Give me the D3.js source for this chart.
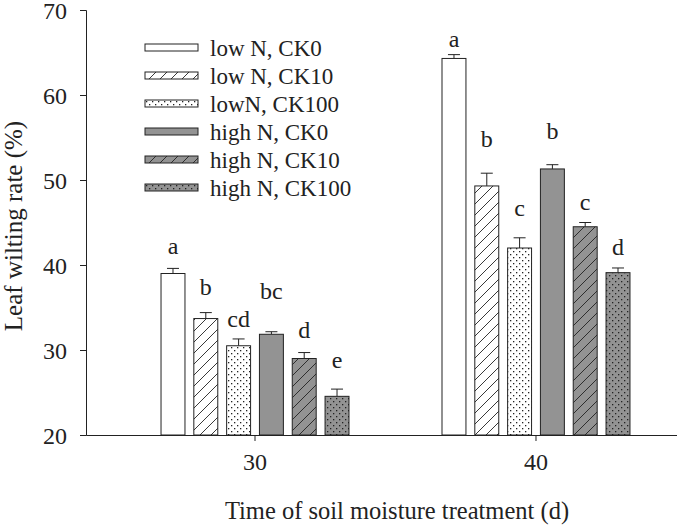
<!DOCTYPE html>
<html>
<head>
<meta charset="utf-8">
<script src="https://cdn.jsdelivr.net/npm/d3@7"></script>
<style>
  body { margin: 0; background: #fff; }
  text { font-family: "Liberation Serif", "Times New Roman", serif; fill: #222; }
</style>
</head>
<body>
<div class="chart"></div>
<script>
// values
var days = ["30", "40"];
var treatments = ["low N, CK0", "low N, CK10", "lowN, CK100", "high N, CK0", "high N, CK10", "high N, CK100"];
var day30 = [39.0, 33.7, 30.5, 31.85, 29.0, 24.55];
var day40 = [64.3, 49.3, 42.0, 51.3, 44.5, 39.1];
var err30 = [0.6, 0.7, 0.8, 0.3, 0.7, 0.85];
var err40 = [0.45, 1.5, 1.2, 0.5, 0.5, 0.55];
var letters30 = ["a", "b", "cd", "bc", "d", "e"];
var letters40 = ["a", "b", "c", "b", "c", "d"];
// height (in %) where each significance letter sits
var letterAt30 = [41.3, 36.5, 32.7, 36.0, 31.4, 27.9];
var letterAt40 = [65.6, 53.9, 45.8, 54.8, 46.5, 41.2];
var yTicks = [20, 30, 40, 50, 60, 70];

var fills = ["#fff", "url(#hatchW)", "url(#dotW)", "#939393", "url(#hatchG)", "url(#dotG)"];

var margin = { top: 10, right: -28, bottom: 94, left: 86 },
    width = 677 - margin.left - margin.right,
    height = 529 - margin.top - margin.bottom;

var root = d3.select('.chart')
    .append('svg')
    .attr("width", 677)
    .attr("height", 529);

// patterns
var defs = root.append("defs");
function hatch(id, bg) {
    var p = defs.append("pattern").attr("id", id)
        .attr("patternUnits", "userSpaceOnUse")
        .attr("width", 11).attr("height", 11);
    p.append("rect").attr("width", 11).attr("height", 11).attr("fill", bg);
    p.append("path").attr("d", "M-1,1 l2,-2 M0,11 l11,-11 M10,12 l2,-2")
        .attr("stroke", "#222").attr("stroke-width", 0.9);
}
function dots(id, bg) {
    var p = defs.append("pattern").attr("id", id)
        .attr("patternUnits", "userSpaceOnUse")
        .attr("width", 6).attr("height", 6);
    p.append("rect").attr("width", 6).attr("height", 6).attr("fill", bg);
    p.append("rect").attr("x", 1).attr("y", 1).attr("width", 1.3).attr("height", 1.3).attr("fill", "#222");
    p.append("rect").attr("x", 4).attr("y", 4).attr("width", 1.3).attr("height", 1.3).attr("fill", "#222");
}
hatch("hatchW", "#fff");
hatch("hatchG", "#939393");
dots("dotW", "#fff");
dots("dotG", "#939393");

var svg = root.append("g")
    .attr("transform", "translate(" + margin.left + "," + margin.top + ")");

var x0 = d3.scaleBand()
    .domain(days)
    .range([0, width])
    .paddingInner(0.331)
    .paddingOuter(0.267);

var x1 = d3.scaleBand()
    .domain(treatments)
    .range([0, x0.bandwidth()])
    .paddingInner(0.27)
    .paddingOuter(0);

var y = d3.scaleLinear()
    .domain([20, 70])
    .range([height, 0]);

var rows = [];
days.forEach(function (day, i) {
    var vals = i === 0 ? day30 : day40;
    var errs = i === 0 ? err30 : err40;
    var lets = i === 0 ? letters30 : letters40;
    var lat = i === 0 ? letterAt30 : letterAt40;
    treatments.forEach(function (t, j) {
        rows.push({ day: day, t: t, idx: j, v: vals[j], e: errs[j], l: lets[j], ly: lat[j] });
    });
});

// axes
svg.append("g")
    .attr("class", "y-axis")
    .call(d3.axisLeft(y).tickValues(yTicks).tickSize(6).tickPadding(13))
    .call(function (g) {
        g.selectAll("text").style("font-size", "24px").attr("dy", "0.36em");
        g.select(".domain").attr("stroke", "#222");
        g.selectAll(".tick line").attr("stroke", "#222");
    });

svg.append("g")
    .attr("class", "x-axis")
    .attr("transform", "translate(0," + height + ")")
    .call(d3.axisBottom(x0).tickSize(6).tickSizeOuter(0).tickPadding(24))
    .call(function (g) {
        g.selectAll("text").style("font-size", "24px").attr("dy", "0.2em");
        g.select(".domain").attr("stroke", "#222");
        g.selectAll(".tick line").attr("stroke", "#222");
    });

// error bars
var eb = svg.selectAll(".err")
    .data(rows)
    .enter()
    .append("g")
    .attr("class", "err");
eb.append("line")
    .attr("x1", function (d) { return x0(d.day) + x1(d.t) + x1.bandwidth() / 2; })
    .attr("x2", function (d) { return x0(d.day) + x1(d.t) + x1.bandwidth() / 2; })
    .attr("y1", function (d) { return y(d.v); })
    .attr("y2", function (d) { return y(d.v + d.e); })
    .attr("stroke", "#222");
eb.append("line")
    .attr("x1", function (d) { return x0(d.day) + x1(d.t) + x1.bandwidth() / 2 - 6; })
    .attr("x2", function (d) { return x0(d.day) + x1(d.t) + x1.bandwidth() / 2 + 6; })
    .attr("y1", function (d) { return y(d.v + d.e); })
    .attr("y2", function (d) { return y(d.v + d.e); })
    .attr("stroke", "#222");

// bars
svg.selectAll(".bar")
    .data(rows)
    .enter()
    .append("rect")
    .attr("class", "bar")
    .attr("x", function (d) { return x0(d.day) + x1(d.t); })
    .attr("y", function (d) { return y(d.v); })
    .attr("width", x1.bandwidth())
    .attr("height", function (d) { return y(20) - y(d.v); })
    .attr("fill", function (d) { return fills[d.idx]; })
    .attr("stroke", "#222")
    .attr("stroke-width", 1);

// significance letters
svg.selectAll(".sig")
    .data(rows)
    .enter()
    .append("text")
    .attr("class", "sig")
    .attr("x", function (d) { return x0(d.day) + x1(d.t) + x1.bandwidth() / 2; })
    .attr("y", function (d) { return y(d.ly); })
    .attr("text-anchor", "middle")
    .style("font-size", "24px")
    .text(function (d) { return d.l; });

// legend
var legend = svg.selectAll(".legend")
    .data(treatments)
    .enter()
    .append("g")
    .attr("class", "legend")
    .attr("transform", function (d, i) { return "translate(59," + (34 + i * 28) + ")"; });
legend.append("rect")
    .attr("width", 53)
    .attr("height", 7)
    .attr("fill", function (d, i) { return fills[i]; })
    .attr("stroke", "#222");
legend.append("text")
    .attr("x", 65)
    .attr("y", 4)
    .attr("dy", "0.35em")
    .style("font-size", "23px")
    .text(function (d) { return d; });

// axis titles
root.append("text")
    .attr("transform", "translate(22,226) rotate(-90)")
    .attr("text-anchor", "middle")
    .style("font-size", "25px")
    .text("Leaf wilting rate (%)");

root.append("text")
    .attr("x", 397)
    .attr("y", 519)
    .attr("text-anchor", "middle")
    .style("font-size", "24.5px")
    .text("Time of soil moisture treatment (d)");
</script>
</body>
</html>
